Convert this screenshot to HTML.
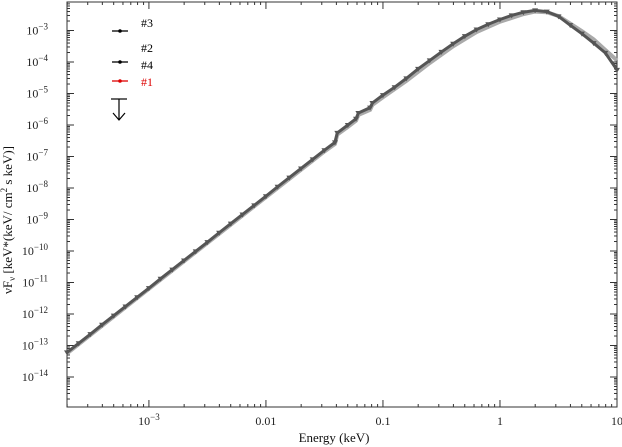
<!DOCTYPE html>
<html><head><meta charset="utf-8"><style>
body{margin:0;background:#fff}
svg{display:block;font-family:"Liberation Serif",serif}
</style></head><body>
<svg id="c" width="622" height="447" viewBox="0 0 622 447"></svg>
<script>
const dataLogE=[-3.7,-3.6,-3.5,-3.4,-3.3,-3.2,-3.1,-3.0,-2.9,-2.8,-2.7,-2.6,-2.5,-2.4,-2.3,-2.2,-2.1,-2.0,-1.9,-1.8,-1.7,-1.6,-1.5,-1.41,-1.39,-1.3,-1.23,-1.21,-1.11,-1.09,-1.0,-0.9,-0.8,-0.7,-0.6,-0.5,-0.4,-0.3,-0.2,-0.1,0.0,0.1,0.2,0.3,0.4,0.5,0.6,0.7,0.8,0.9,1.0];
const dataLogF=[-13.22,-12.93,-12.64,-12.34,-12.05,-11.76,-11.47,-11.18,-10.88,-10.59,-10.30,-10.01,-9.72,-9.42,-9.13,-8.84,-8.55,-8.26,-7.96,-7.67,-7.38,-7.09,-6.80,-6.55,-6.25,-6.0,-5.8,-5.62,-5.45,-5.3,-5.05,-4.8,-4.52,-4.22,-3.95,-3.68,-3.42,-3.18,-2.97,-2.80,-2.65,-2.52,-2.42,-2.36,-2.40,-2.55,-2.83,-3.10,-3.40,-3.71,-4.25];
const modelLogE=[-3.7,-3.0,-2.0,-1.5,-1.41,-1.39,-1.3,-1.23,-1.21,-1.11,-1.09,-1.0,-0.8,-0.6,-0.4,-0.2,0.0,0.2,0.3,0.4,0.5,0.6,0.7,0.8,0.9,1.0];
const modelLogF=[-13.25,-11.2,-8.29,-6.84,-6.6,-6.3,-6.06,-5.86,-5.68,-5.52,-5.36,-5.12,-4.6,-4.03,-3.5,-3.05,-2.72,-2.48,-2.40,-2.42,-2.54,-2.78,-3.02,-3.28,-3.62,-3.95];
const xTickVals=[-3,-2,-1,0,1];
const xTickLabels=["10","0.01","0.1","1","10"];
const yTickVals=[-3,-4,-5,-6,-7,-8,-9,-10,-11,-12,-13,-14];

const NS="http://www.w3.org/2000/svg";
const svg=document.getElementById('c');
const L=67,R=617,T=2,B=407;
const xMin=-3.7,xMax=1.0;
const sx=v=>L+(v-xMin)/(xMax-xMin)*(R-L);
const sy=v=>30.5+(-3-v)*31.5;
function mk(tag,attrs,parent){const e=document.createElementNS(NS,tag);for(const k in attrs)e.setAttribute(k,attrs[k]);(parent||svg).appendChild(e);return e;}

// axes group
const ax=mk('g',{stroke:'#333','stroke-width':1});


const frame=mk('rect',{x:L,y:T,width:R-L,height:B-T,fill:'none'},ax);


// x ticks
for(let d=-4;d<=1;d++){for(let m=1;m<10;m++){const v=d+Math.log10(m);if(v<xMin-1e-6||v>xMax+1e-6)continue;const x=sx(v);const len=m===1?7:3;
mk('line',{x1:x,y1:B,x2:x,y2:B-len},ax);mk('line',{x1:x,y1:T,x2:x,y2:T+len},ax);}}
// y ticks
for(let d=-15;d<=-2;d++){for(let m=1;m<10;m++){const v=d+Math.log10(m);const y=sy(v);if(y<T||y>B)continue;const len=m===1?7:3;
mk('line',{x1:L,y1:y,x2:L+len,y2:y},ax);mk('line',{x1:R,y1:y,x2:R-len,y2:y},ax);}}
// x labels
xTickVals.forEach((v,i)=>{const t=mk('text',{x:sx(v),y:425,'font-size':12,'text-anchor':'middle',fill:'#222'});


t.textContent=xTickLabels[i];
if(i===0){const s=mk('tspan',{dy:-5,'font-size':9},t);s.textContent='−3';}});
// y labels
yTickVals.forEach(v=>{const t=mk('text',{x:48,y:sy(v)+4,'font-size':12,'text-anchor':'end',fill:'#222'});


t.textContent='10';const s=mk('tspan',{dy:-5,'font-size':9},t);s.textContent='−'+(-v);});
// axis titles
const xt=mk('text',{x:334,y:442,'font-size':13,'text-anchor':'middle',fill:'#111'});


xt.textContent='Energy (keV)';
const yt=mk('text',{x:0,y:0,'font-size':13,'text-anchor':'middle',fill:'#111',transform:'translate(12,220) rotate(-90)'});


yt.textContent='νF';const s1=mk('tspan',{dy:3,'font-size':9},yt);s1.textContent='ν';
const s2=mk('tspan',{dy:-3},yt);s2.textContent=' [keV*(keV/ cm';const s3=mk('tspan',{dy:-5,'font-size':9},yt);s3.textContent='2';
const s4=mk('tspan',{dy:5},yt);s4.textContent=' s keV)]';

// model line
const mp=mk('polyline',{points:modelLogE.map((e,i)=>sx(e)+','+sy(modelLogF[i])).join(' '),fill:'none',stroke:'#aaa','stroke-width':4});


// data line
const dp=mk('polyline',{points:dataLogE.map((e,i)=>sx(e)+','+sy(dataLogF[i])).join(' '),fill:'none',stroke:'#555','stroke-width':3});


// markers
dataLogE.forEach((e,i)=>{const x=sx(e),y=sy(dataLogF[i]);
const p=mk('polygon',{points:`${x-3},${y-2} ${x+3},${y-2} ${x},${y+3}`,fill:'#555'});

});

// legend
const lg=mk('g',{});


[[31,27,'#3','#000'],[62,52,'#2','#000'],[62,69,'#4','#000'],[81,86,'#1','#d00']].forEach(([ly,ty,lab,col],i)=>{
if(i!==2){mk('line',{x1:112,y1:ly,x2:128,y2:ly,stroke:col,'stroke-width':1.3},lg);mk('circle',{cx:120,cy:ly,r:1.8,fill:col},lg);}
const t=mk('text',{x:141,y:ty,'font-size':12,fill:col},lg);


t.textContent=lab;});
mk('line',{x1:111,y1:99,x2:127,y2:99,stroke:'#000','stroke-width':1.2},lg);
mk('line',{x1:119,y1:99,x2:119,y2:120,stroke:'#000','stroke-width':1.2},lg);
mk('polyline',{points:'113,113 119,120 125,113',fill:'none',stroke:'#000','stroke-width':1.2},lg);
</script>
</body></html>
